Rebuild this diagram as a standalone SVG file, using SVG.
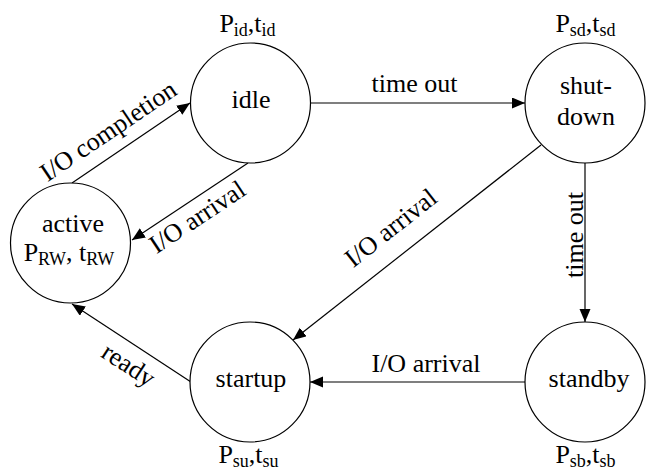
<svg xmlns="http://www.w3.org/2000/svg" width="646" height="474" viewBox="0 0 646 474">
<style>
.node{fill:#fff;stroke:#000;stroke-width:1.2}
.edge{fill:none;stroke:#000;stroke-width:1.2;marker-end:url(#arr)}
text{font-family:"Liberation Serif","Times New Roman",serif;font-size:26px;fill:#000}
.c{text-anchor:middle}
.sub{font-size:18px}
</style>
<defs>
<marker id="arr" markerUnits="userSpaceOnUse" markerWidth="14" markerHeight="12" refX="13" refY="5.5" orient="auto">
<path d="M0,0 L13,5.5 L0,11 Z" fill="#000"/>
</marker>
</defs>
<rect width="646" height="474" fill="#fff"/>
<g id="connectors">
<line class="edge" x1="72" y1="183" x2="190" y2="103"/>
<line class="edge" x1="248" y1="163" x2="132" y2="240"/>
<line class="edge" x1="310" y1="103" x2="525" y2="103"/>
<line class="edge" x1="585" y1="163" x2="585" y2="322"/>
<line class="edge" x1="541" y1="145" x2="293" y2="340"/>
<line class="edge" x1="525" y1="382" x2="310" y2="382"/>
<line class="edge" x1="191" y1="382" x2="72" y2="304"/>
<text class="c" transform="translate(113,138) rotate(-34)">I/O completion</text>
<text class="c" transform="translate(202,224) rotate(-33.6)">I/O arrival</text>
<text class="c" x="414.5" y="92">time out</text>
<text class="c" transform="translate(583,235) rotate(-90)">time out</text>
<text class="c" transform="translate(396,234.5) rotate(-38.2)">I/O arrival</text>
<text class="c" x="426" y="372">I/O arrival</text>
<text class="c" transform="translate(124,372) rotate(33)">ready</text>
</g>
<g id="idle">
<circle class="node" cx="250.5" cy="103" r="60"/>
<text class="c" x="251" y="108">idle</text>
<text class="c" x="247.5" y="32">P<tspan class="sub" dy="4">id</tspan><tspan dy="-4">,t</tspan><tspan class="sub" dy="4">id</tspan></text>
</g>
<g id="shutdown">
<circle class="node" cx="585" cy="103" r="60"/>
<text class="c" x="586" y="94">shut-</text>
<text class="c" x="586" y="125">down</text>
<text class="c" x="585.5" y="32">P<tspan class="sub" dy="4">sd</tspan><tspan dy="-4">,t</tspan><tspan class="sub" dy="4">sd</tspan></text>
</g>
<g id="active">
<circle class="node" cx="70.5" cy="243" r="60"/>
<text class="c" x="73" y="232">active</text>
<text class="c" x="69" y="261">P<tspan class="sub" dy="4">RW</tspan><tspan dy="-4">, t</tspan><tspan class="sub" dy="4">RW</tspan></text>
</g>
<g id="startup">
<circle class="node" cx="250" cy="382" r="60"/>
<text class="c" x="251" y="387">startup</text>
<text class="c" x="248.5" y="463">P<tspan class="sub" dy="4">su</tspan><tspan dy="-4">,t</tspan><tspan class="sub" dy="4">su</tspan></text>
</g>
<g id="standby">
<circle class="node" cx="585" cy="382" r="60"/>
<text class="c" x="589" y="387">standby</text>
<text class="c" x="585.5" y="463">P<tspan class="sub" dy="4">sb</tspan><tspan dy="-4">,t</tspan><tspan class="sub" dy="4">sb</tspan></text>
</g>
</svg>
